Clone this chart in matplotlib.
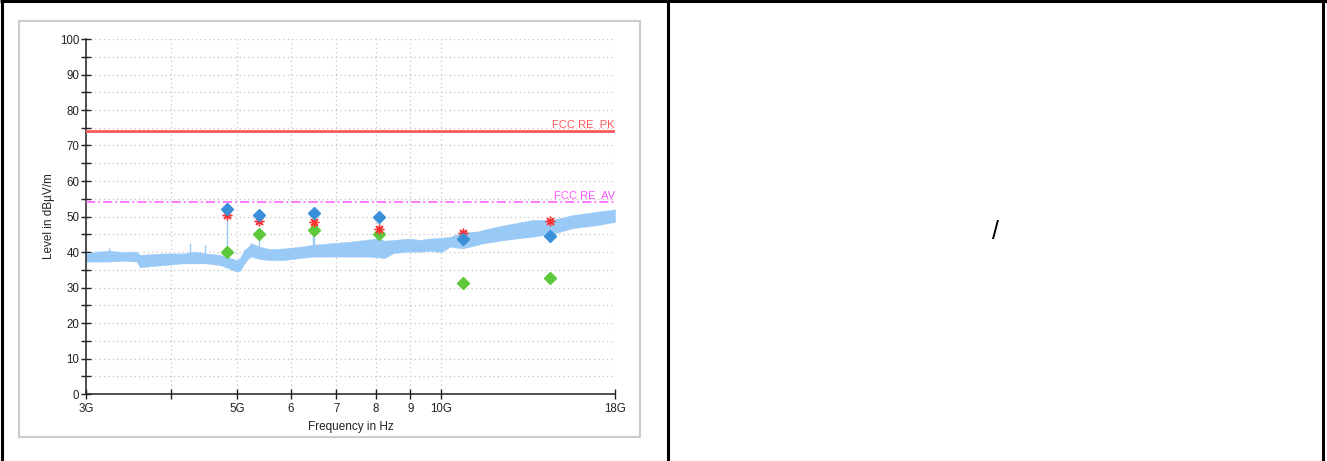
import matplotlib
matplotlib.use("Agg")
import matplotlib.pyplot as plt
from matplotlib.patches import Rectangle
from matplotlib.lines import Line2D
from matplotlib.ticker import FixedLocator, NullLocator, MultipleLocator

plt.rcParams['font.family'] = ['Liberation Sans', 'DejaVu Sans']

# ---------------- data ----------------
# spectrum trace envelope (GHz, lower dB, upper dB)
trace_freq_ghz = [3.00, 3.10, 3.24, 3.40, 3.56, 3.60, 3.75, 3.90, 4.17, 4.34,
                  4.50, 4.72, 4.85, 5.00, 5.06, 5.12, 5.20, 5.25, 5.40, 5.60,
                  5.85, 6.20, 6.45, 6.90, 7.33, 7.80, 8.07, 8.25, 8.50, 8.97,
                  9.30, 9.60, 10.0, 10.3, 10.74, 11.3, 11.5, 12.4, 13.6, 14.5,
                  15.6, 17.0, 18.0]
trace_low = [37.3, 37.3, 37.3, 37.5, 37.3, 35.7, 36.0, 36.3, 36.8, 36.8,
             36.8, 36.3, 35.5, 34.4, 34.8, 36.5, 38.2, 38.7, 38.0, 37.7,
             37.7, 38.3, 38.7, 38.7, 38.7, 38.7, 38.5, 38.3, 39.7, 40.1,
             40.1, 40.3, 40.0, 41.5, 41.0, 42.0, 42.4, 43.4, 44.3, 45.0,
             46.7, 47.6, 48.5]
trace_high = [39.6, 40.1, 40.4, 40.0, 40.1, 39.2, 39.4, 39.6, 39.6, 40.1,
              39.6, 39.2, 38.6, 37.7, 38.5, 40.5, 41.5, 42.5, 41.5, 40.8,
              41.0, 41.5, 42.0, 42.5, 42.9, 43.5, 43.9, 43.2, 43.4, 43.8,
              43.4, 43.8, 44.0, 44.3, 45.5, 45.8, 46.2, 47.6, 49.0, 49.0,
              50.4, 51.4, 52.0]

# narrow spikes on the trace (GHz, bottom dB, top dB)
spike_freq_ghz = [3.24, 4.27, 4.49, 4.83, 5.39, 6.47, 6.50, 8.09]
spike_low = [39.0, 39.0, 39.0, 37.0, 40.0, 40.0, 40.0, 41.0]
spike_high = [41.0, 42.4, 42.0, 52.0, 45.0, 48.5, 48.0, 46.6]

# final measurement points
marker_freq_ghz = [4.83, 5.39, 6.49, 8.09, 10.75, 14.44]
peak_level = [52.1, 50.4, 51.0, 50.0, 43.6, 44.5]      # blue diamonds
red_level = [50.4, 48.7, 48.5, 46.6, 45.3, 48.8]       # red asterisks
avg_level = [39.9, 45.0, 46.3, 45.0, 31.2, 32.6]       # green diamonds

# limit lines
limit_pk = 74
limit_av = 54
limit_pk_label = "FCC RE  PK"
limit_av_label = "FCC RE  AV"

# axis ticks
xtick_ghz = [3, 4, 5, 6, 7, 8, 9, 10, 18]
xtick_labels = ["3G", "", "5G", "6", "7", "8", "9", "10G", "18G"]
ytick_vals = [0, 10, 20, 30, 40, 50, 60, 70, 80, 90, 100]
ytick_labels = ["0", "10", "20", "30", "40", "50", "60", "70", "80", "90", "100"]

x_label = "Frequency in Hz"
y_label = "Level in dBµV/m"
right_cell_text = "/"

# ---------------- figure ----------------
W, H = 1327, 461
fig = plt.figure(figsize=(W / 100, H / 100), dpi=100)


def fx(px):
    return px / W


def fy(py):
    return 1 - py / H


# outer table frame
for (x0, y0, x1, y1) in [(1.5, 0, 1.5, H), (0, 1.5, W, 1.5),
                         (667.5, 0, 667.5, H), (1322.5, 0, 1322.5, H)]:
    fig.add_artist(Line2D([fx(x0), fx(x1)], [fy(y0), fy(y1)],
                          color='black', lw=2.2, solid_capstyle='butt'))

# gray frame of the chart picture
fig.add_artist(Rectangle((fx(19), fy(437)), fx(640) - fx(19), fy(21) - fy(437),
                         transform=fig.transFigure, fill=False,
                         edgecolor='#cccccc', lw=1.5))

fig.text(fx(995), fy(232), right_cell_text, ha='center', va='center',
         fontsize=18, color='black')

ax = fig.add_axes([fx(86), fy(394), fx(615) - fx(86), fy(39) - fy(394)])
ax.set_xscale('log')
ax.set_xlim(3e9, 18e9)
ax.set_ylim(0, 100)

ax.xaxis.set_major_locator(FixedLocator([v * 1e9 for v in xtick_ghz]))
ax.xaxis.set_minor_locator(NullLocator())
ax.set_xticklabels(xtick_labels)
ax.yaxis.set_major_locator(FixedLocator(ytick_vals))
ax.set_yticklabels(ytick_labels)
ax.yaxis.set_minor_locator(MultipleLocator(5))

ax.tick_params(axis='both', which='both', direction='inout', length=6.5,
               width=1.0, color='#222222', labelsize=8.3, labelcolor='#222222')
ax.tick_params(axis='y', which='both', pad=1.5)
ax.tick_params(axis='x', which='both', pad=3)

for s in ['top', 'right']:
    ax.spines[s].set_visible(False)
for s in ['left', 'bottom']:
    ax.spines[s].set_color('#222222')
    ax.spines[s].set_linewidth(1.1)

ax.set_axisbelow(True)
ax.grid(which='major', axis='x', ls=(0, (1, 2.5)), color='#c4c4c4', lw=0.9)
ax.grid(which='both', axis='y', ls=(0, (1, 2.5)), color='#c4c4c4', lw=0.9)

trace_color = '#99c9f7'
ax.fill_between([f * 1e9 for f in trace_freq_ghz], trace_low, trace_high,
                color=trace_color, lw=0.3, edgecolor=trace_color, zorder=2)
ax.vlines([f * 1e9 for f in spike_freq_ghz], spike_low, spike_high,
          color=trace_color, lw=1.0, zorder=2)

ax.axhline(limit_pk, color='#ff5a5a', lw=2.0, zorder=3)
ax.axhline(limit_av, color='#ff55ff', lw=1.1, dashes=(6, 2, 1.2, 2), zorder=3)
ax.annotate(limit_pk_label, xy=(1, limit_pk), xycoords=('axes fraction', 'data'),
            xytext=(0, 2.5), textcoords='offset points', ha='right',
            va='baseline', fontsize=8, color='#ff5a5a')
ax.annotate(limit_av_label, xy=(1, limit_av), xycoords=('axes fraction', 'data'),
            xytext=(0, 2.5), textcoords='offset points', ha='right',
            va='baseline', fontsize=8, color='#ff55ff')

mf = [f * 1e9 for f in marker_freq_ghz]
ax.plot(mf, avg_level, ls='none', marker='D', ms=5.8, color='#5cc83a',
        mec='#5cc83a', zorder=4)
ax.plot(mf, red_level, ls='none', marker=(8, 2, 0), ms=7, color='#ff3333',
        mew=1.0, zorder=5)
ax.plot(mf, peak_level, ls='none', marker='D', ms=5.8, color='#3a8fd9',
        mec='#3a8fd9', zorder=6)

ax.set_xlabel(x_label, fontsize=8.5, color='#222222')
ax.set_ylabel(y_label, fontsize=8.5, color='#222222')
ax.xaxis.set_label_coords(0.5, -0.076)
ax.yaxis.set_label_coords(-0.058, 0.5)

fig.savefig("out.png", dpi=100)
